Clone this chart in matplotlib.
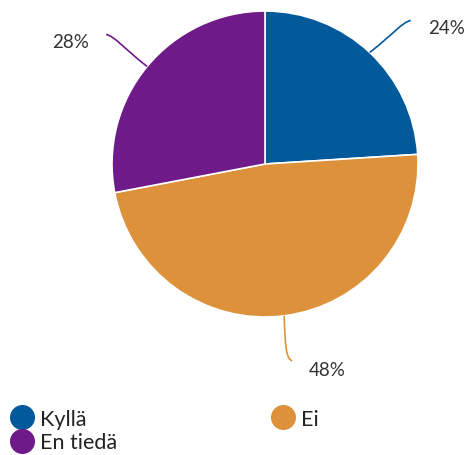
import numpy as np
import matplotlib.pyplot as plt
from matplotlib.path import Path
from matplotlib.patches import PathPatch
from matplotlib.lines import Line2D

plt.rcParams['font.family'] = ['Lato', 'DejaVu Sans']

labels = ['Kyllä', 'Ei', 'En tiedä']
values = [24, 48, 28]
colors = ['#035a9a', '#dc913a', '#6f1a89']

W, H = 472, 456
cx, cy, r = 265, H - 165, 153

fig = plt.figure(figsize=(W / 100, H / 100), dpi=100)
ax = fig.add_axes([0, 0, 1, 1])

wedges, _ = ax.pie(values, colors=colors, startangle=90, counterclock=False,
                   center=(cx, cy), radius=r, frame=True,
                   wedgeprops=dict(edgecolor='white', linewidth=1.2))
ax.set_xlim(0, W)
ax.set_ylim(0, H)
ax.set_aspect('equal')
ax.axis('off')

# leader line end offsets (pixels, y up) per slice
leaders = [(41, 32), (8, -45), (-41, 32)]
for w, v, c, (dx, dy) in zip(wedges, values, colors, leaders):
    mid = np.deg2rad((w.theta1 + w.theta2) / 2)
    x0, y0 = cx + r * np.cos(mid), cy + r * np.sin(mid)
    x1, y1 = x0 + dx, y0 + dy
    s = np.sign(dx)
    if abs(dx) > abs(dy) * 0.5:
        verts = [(x0, y0), (x0 + dx * 0.6, y0 + dy * 0.6), (x1 - s * 9, y1 - 2), (x1, y1)]
        tx, ty = x1 + s * 17, y1 - 7
        ha = 'left' if s > 0 else 'right'
    else:
        verts = [(x0, y0), (x0 + 1, y0 + dy * 0.7), (x1 - 6, y1 + 2), (x1, y1)]
        tx, ty, ha = x1 + 17, y1 - 9, 'left'
    path = Path(verts, [Path.MOVETO, Path.CURVE4, Path.CURVE4, Path.CURVE4])
    ax.add_patch(PathPatch(path, facecolor='none', edgecolor=c, lw=1.2))
    ax.text(tx, ty, f'{v}%', ha=ha, va='center', fontsize=13.5, color='#333333')

order = [0, 2, 1]
handles = [Line2D([], [], marker='o', ls='', markersize=17, color=colors[i]) for i in order]
fig.legend(handles, [labels[i] for i in order], loc='lower left',
           bbox_to_anchor=(-0.009, -0.022), ncol=2,
           frameon=False, fontsize=15.5, handletextpad=0.25, columnspacing=7.1,
           labelspacing=0.15, borderaxespad=0.2, handlelength=1.2,
           labelcolor='#222222')

fig.savefig('out.png', dpi=100)
